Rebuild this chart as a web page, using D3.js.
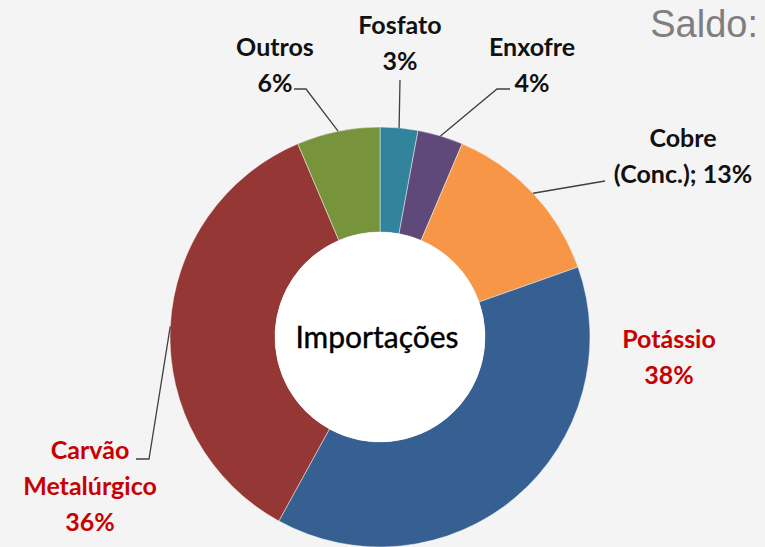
<!DOCTYPE html>
<html>
<head>
<meta charset="utf-8">
<script src="https://cdn.jsdelivr.net/npm/d3@7"></script>
<style>
  html, body { margin: 0; padding: 0; background: #f4f4f4; }
  svg { display: block; }
</style>
</head>
<body>
<svg id="chart" width="765" height="547"></svg>
<script>
// ---- data ----
const categories = ["Fosfato", "Enxofre", "Cobre (Conc.)", "Potássio", "Carvão Metalúrgico", "Outros"];
const values = [2.9, 3.5, 13.2, 38.4, 35.6, 6.4];
const percentLabels = ["3%", "4%", "13%", "38%", "36%", "6%"];
const labelLines = [
  ["Fosfato", "3%"],
  ["Enxofre", "4%"],
  ["Cobre", "(Conc.); 13%"],
  ["Potássio", "38%"],
  ["Carvão", "Metalúrgico", "36%"],
  ["Outros", "6%"]
];
const highlighted = ["Potássio", "Carvão Metalúrgico"];
const centerTitle = "Importações";
const cornerText = "Saldo:";

// ---- style / layout ----
const colors = ["#31849b", "#5f497a", "#f79646", "#376092", "#953735", "#77933c"];
const W = 765, H = 547;
const cx = 380, cy = 337, rOuter = 210, rInner = 105;
const fontFam = "Lato, 'Open Sans', sans-serif";
const fs = 25, lh = 36;

// label layout: text center x, first baseline y, leader elbow points (after arc point)
const layout = {
  "Fosfato":            { x: 400, y: 34,  pts: [[400, 80]] },
  "Enxofre":            { x: 532, y: 56,  pts: [[497, 89], [510, 89]] },
  "Cobre (Conc.)":      { x: 683, y: 147, pts: [[605, 181]] },
  "Potássio":           { x: 669, y: 348, pts: null },
  "Carvão Metalúrgico": { x: 90,  y: 459, pts: [[149, 459], [136, 459]] },
  "Outros":             { x: 275, y: 56,  pts: [[306, 89], [294, 89]] }
};

const svg = d3.select("#chart");
svg.append("rect").attr("width", W).attr("height", H).attr("fill", "#f4f4f4");

const color = d3.scaleOrdinal().domain(categories).range(colors);

const pie = d3.pie().value(d => d.value).sort(null);
const data = categories.map((c, i) => ({ cat: c, value: values[i], lines: labelLines[i] }));
const arcs = pie(data);
const arc = d3.arc().innerRadius(rInner).outerRadius(rOuter);

const g = svg.append("g").attr("transform", `translate(${cx},${cy})`);
g.selectAll("path.slice").data(arcs).enter().append("path")
  .attr("class", "slice")
  .attr("d", arc)
  .attr("fill", d => color(d.data.cat))
  .attr("stroke", "rgba(255,255,255,0.45)")
  .attr("stroke-width", 1);

g.append("circle").attr("r", rInner).attr("fill", "#ffffff");

g.append("text")
  .attr("x", -3).attr("y", 3)
  .attr("text-anchor", "middle")
  .attr("dominant-baseline", "middle")
  .attr("font-family", fontFam)
  .attr("font-size", 30)
  .attr("fill", "#000")
  .attr("stroke", "#000")
  .attr("stroke-width", 0.4)
  .text(centerTitle);

// leader lines
arcs.forEach(a => {
  const L = layout[a.data.cat];
  if (!L.pts) return;
  const mid = (a.startAngle + a.endAngle) / 2;
  const p0 = [cx + rOuter * Math.sin(mid), cy - rOuter * Math.cos(mid)];
  const pts = [p0].concat(L.pts);
  svg.append("path")
    .attr("d", d3.line()(pts))
    .attr("fill", "none")
    .attr("stroke", "#404040")
    .attr("stroke-width", 1.3);
});

// labels
arcs.forEach(a => {
  const L = layout[a.data.cat];
  const red = highlighted.includes(a.data.cat);
  const t = svg.append("text")
    .attr("text-anchor", "middle")
    .attr("font-family", fontFam)
    .attr("font-weight", "bold")
    .attr("font-size", fs)
    .attr("fill", red ? "#c80000" : "#111");
  a.data.lines.forEach((ln, j) => {
    t.append("tspan").attr("x", L.x).attr("y", L.y + j * lh).text(ln);
  });
});

svg.append("text")
  .attr("x", 758).attr("y", 37)
  .attr("text-anchor", "end")
  .attr("font-family", "'Liberation Sans', Arial, sans-serif")
  .attr("font-size", 38)
  .attr("fill", "#7f7f7f")
  .text(cornerText);
</script>
</body>
</html>
